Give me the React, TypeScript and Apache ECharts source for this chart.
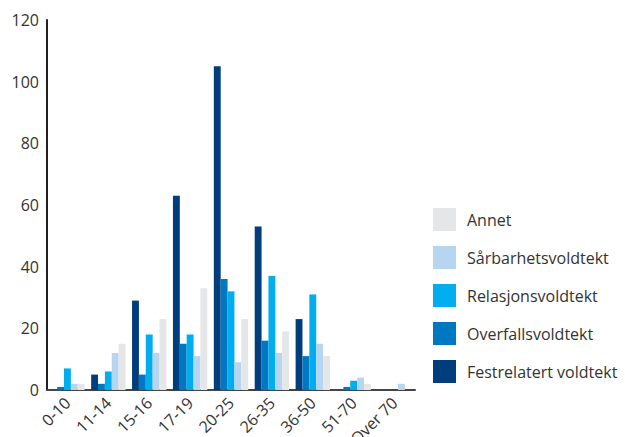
import React, { useEffect, useRef } from "react";
import * as echarts from "echarts";

const categories = ["0-10", "11-14", "15-16", "17-19", "20-25", "26-35", "36-50", "51-70", "Over 70"];
const festrelatert = [0, 5, 29, 63, 105, 53, 23, 0, 0];
const overfalls = [1, 2, 5, 15, 36, 16, 11, 1, 0];
const relasjons = [7, 6, 18, 18, 32, 37, 31, 3, 0];
const sarbarhets = [2, 12, 12, 11, 9, 12, 15, 4, 2];
const annet = [2, 15, 23, 33, 23, 19, 11, 2, 0];
const yTicks = { min: 0, max: 120, interval: 20 };

const seriesDefs = [
  { name: "Festrelatert voldtekt", data: festrelatert, color: "#003d7d" },
  { name: "Overfallsvoldtekt", data: overfalls, color: "#0078c1" },
  { name: "Relasjonsvoldtekt", data: relasjons, color: "#00adef" },
  { name: "Sårbarhetsvoldtekt", data: sarbarhets, color: "#b5d5f0" },
  { name: "Annet", data: annet, color: "#e5e6e8" },
];

export default function App() {
  const ref = useRef<HTMLDivElement>(null);
  useEffect(() => {
    document.body.style.margin = "0";
    if (!ref.current) return;
    const chart = echarts.init(ref.current, null, { renderer: "svg" });
    const font = "'Open Sans', sans-serif";
    chart.setOption({
      animation: false,
      textStyle: { fontFamily: font },
      grid: { left: 47, right: 210, top: 20, bottom: 47, containLabel: false, outerBoundsMode: "none" },
      legend: {
        orient: "vertical",
        left: 433,
        top: 208,
        padding: 0,
        itemWidth: 23,
        itemHeight: 23,
        itemGap: 15,
        icon: "rect",
        data: ["Annet", "Sårbarhetsvoldtekt", "Relasjonsvoldtekt", "Overfallsvoldtekt", "Festrelatert voldtekt"],
        textStyle: { fontSize: 16, color: "#333", fontFamily: font, padding: [0, 0, 0, 6] },
      },
      xAxis: {
        type: "category",
        data: categories,
        axisLine: { show: true, lineStyle: { color: "#444", width: 2 } },
        axisTick: { show: false },
        axisLabel: { rotate: 45, fontSize: 16, color: "#333", margin: 10, interval: 0, fontFamily: font },
      },
      yAxis: {
        type: "value",
        min: yTicks.min,
        max: yTicks.max,
        interval: yTicks.interval,
        axisLine: { show: true, lineStyle: { color: "#231f20", width: 2 } },
        axisTick: { show: false },
        splitLine: { show: false },
        axisLabel: { fontSize: 16, color: "#333", margin: 8, fontFamily: font },
      },
      series: seriesDefs.map((s) => ({
        type: "bar",
        name: s.name,
        data: s.data,
        itemStyle: { color: s.color },
        barGap: "0%",
        barCategoryGap: "16%",
      })),
    });
    return () => chart.dispose();
  }, []);
  return <div ref={ref} style={{ width: 625, height: 437 }} />;
}
